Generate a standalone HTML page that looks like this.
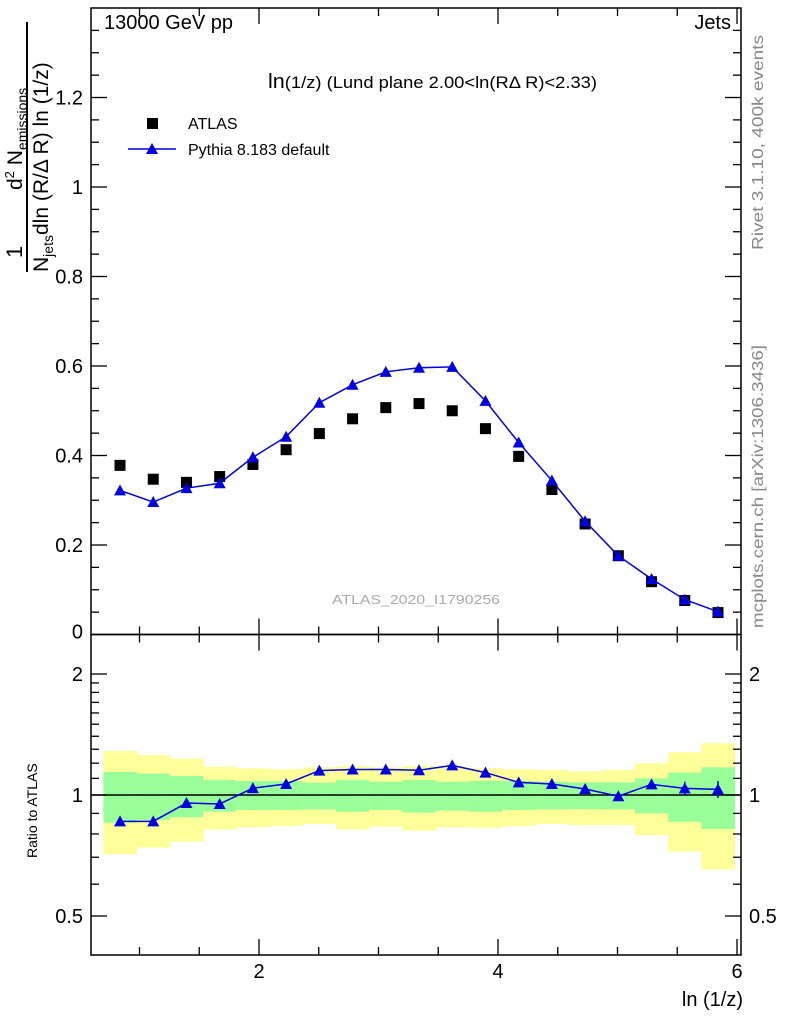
<!DOCTYPE html>
<html><head><meta charset="utf-8"><style>
html,body{margin:0;padding:0;background:#fff;}
svg{display:block;font-family:"Liberation Sans",sans-serif;}
</style></head><body>
<svg id="c" width="786" height="1024" viewBox="0 0 786 1024">
<g id="bands"></g>
<g id="axes"></g>
<g id="marks"></g>
<text x="104" y="29" font-size="20">13000 GeV pp</text>
<text x="731" y="29" font-size="20" text-anchor="end">Jets</text>
<text x="268" y="88" font-size="17" textLength="329" lengthAdjust="spacingAndGlyphs"><tspan font-size="20">ln</tspan>(1/z)  (Lund plane 2.00&lt;ln(RΔ R)&lt;2.33)</text>
<g>
<rect x="147" y="118" width="11" height="11" fill="#000"/>
<text x="188" y="129" font-size="16">ATLAS</text>
<line x1="128" y1="149" x2="176" y2="149" stroke="#0000e0" stroke-width="1.5"/>
<polygon points="152,143 158,154 146,154" fill="#0000e0"/>
<text x="188" y="155" font-size="16">Pythia 8.183 default</text>
</g>
<text x="332" y="604" font-size="13" fill="#aaa" textLength="168" lengthAdjust="spacingAndGlyphs">ATLAS_2020_I1790256</text>
<text transform="translate(763,250) rotate(-90)" font-size="16" fill="#888" textLength="215" lengthAdjust="spacingAndGlyphs">Rivet 3.1.10,  400k events</text>
<text transform="translate(763,628) rotate(-90)" font-size="16" fill="#888" textLength="283" lengthAdjust="spacingAndGlyphs">mcplots.cern.ch [arXiv:1306.3436]</text>
<g>
<text transform="translate(22,258) rotate(-90)" font-size="22">1</text>
<text transform="translate(22,190) rotate(-90)" font-size="21"><tspan>d</tspan><tspan font-size="13" dy="-8">2</tspan><tspan dy="8"> N</tspan><tspan font-size="14" dy="5">emissions</tspan></text>
<line x1="27" y1="272" x2="27" y2="22" stroke="#000" stroke-width="2"/>
<text transform="translate(48,272) rotate(-90)" font-size="21"><tspan>N</tspan><tspan font-size="14" dy="5">jets</tspan><tspan dy="-5">dln (R/Δ R) ln (1/z)</tspan></text>
</g>
<text transform="translate(37,858) rotate(-90)" font-size="14">Ratio to ATLAS</text>
<text x="743" y="1006" font-size="20" text-anchor="end">ln (1/z)</text>
</svg>
<script>
const binLow = [0.698,0.976,1.254,1.532,1.81,2.088,2.366,2.644,2.922,3.2,3.478,3.756,4.034,4.312,4.59,4.868,5.146,5.424,5.702];
const binHigh = [0.976,1.254,1.532,1.81,2.088,2.366,2.644,2.922,3.2,3.478,3.756,4.034,4.312,4.59,4.868,5.146,5.424,5.702,5.98];
const binCenters = [0.837,1.115,1.393,1.671,1.949,2.227,2.505,2.783,3.061,3.339,3.617,3.895,4.173,4.451,4.729,5.007,5.285,5.563,5.841];
const atlasValues = [0.378,0.347,0.340,0.353,0.380,0.413,0.449,0.482,0.507,0.516,0.500,0.460,0.398,0.324,0.247,0.176,0.118,0.076,0.049];
const pythiaValues = [0.322,0.296,0.327,0.338,0.396,0.442,0.518,0.558,0.587,0.596,0.598,0.522,0.429,0.344,0.253,0.176,0.124,0.078,0.051];
const ratioValues = [0.86,0.86,0.955,0.95,1.04,1.065,1.15,1.157,1.157,1.152,1.185,1.137,1.075,1.065,1.035,0.993,1.063,1.039,1.033];
const ratioErr = [0,0,0,0,0,0,0,0,0,0,0,0,0,0.01,0.015,0.02,0.03,0.04,0.05];
const yellowHigh = [1.287,1.257,1.231,1.176,1.165,1.159,1.172,1.181,1.172,1.181,1.172,1.165,1.159,1.154,1.145,1.154,1.199,1.277,1.345];
const yellowLow = [0.713,0.74,0.765,0.821,0.831,0.837,0.847,0.821,0.834,0.815,0.831,0.829,0.837,0.847,0.842,0.842,0.795,0.723,0.653];
const greenHigh = [1.141,1.13,1.115,1.09,1.083,1.083,1.073,1.09,1.079,1.09,1.079,1.085,1.083,1.079,1.075,1.075,1.1,1.137,1.172];
const greenLow = [0.853,0.867,0.88,0.909,0.918,0.918,0.921,0.909,0.918,0.904,0.914,0.909,0.918,0.921,0.923,0.921,0.9,0.858,0.823];
const mainTicks = [0.2,0.4,0.6,0.8,1,1.2];
const mainTickLabels = ["0.2","0.4","0.6","0.8","1","1.2"];
const ratioTicks = [0.5,1,2];
const ratioTickLabels = ["0.5","1","2"];
const xTicks = [2,4,6];
const xTickLabels = ["2","4","6"];

const NS="http://www.w3.org/2000/svg";
const L=91,R=741,T=8,MB=634.5,RB=955;
const X=v=>259+(v-2)*119.5;
const YM=v=>MB-v*447.5;
const YR=v=>795-Math.log2(v)*121;
function mk(tag,attrs,parent){const e=document.createElementNS(NS,tag);for(const k in attrs)e.setAttribute(k,attrs[k]);parent.appendChild(e);return e;}
const bands=document.getElementById('bands'),axes=document.getElementById('axes'),marks=document.getElementById('marks');

for(let i=0;i<binCenters.length;i++){
  let r=mk('rect',{x:X(binLow[i]),y:YR(yellowHigh[i]),width:X(binHigh[i])-X(binLow[i])+0.5,height:YR(yellowLow[i])-YR(yellowHigh[i]),fill:'#ffff99'},bands);
  
  
  let g=mk('rect',{x:X(binLow[i]),y:YR(greenHigh[i]),width:X(binHigh[i])-X(binLow[i])+0.5,height:YR(greenLow[i])-YR(greenHigh[i]),fill:'#99ff99'},bands);
  
  
}
let f1=mk('rect',{x:L,y:T,width:R-L,height:MB-T,fill:'none',stroke:'#000','stroke-width':1.5},axes);


let f2=mk('rect',{x:L,y:MB,width:R-L,height:RB-MB,fill:'none',stroke:'#000','stroke-width':1.5},axes);


let one=mk('line',{x1:L,x2:R,y1:YR(1),y2:YR(1),stroke:'#000','stroke-width':1.5},axes);


for(let v=0.05;v<1.4;v+=0.05){
  const y=YM(v);const maj=Math.abs(v/0.2-Math.round(v/0.2))<0.01;const len=maj?16:8;
  mk('line',{x1:L,x2:L+len,y1:y,y2:y,stroke:'#000','stroke-width':1.3},axes);
  mk('line',{x1:R,x2:R-len,y1:y,y2:y,stroke:'#000','stroke-width':1.3},axes);
}
mainTicks.forEach((v,i)=>{const t=mk('text',{x:L-8,y:YM(v)+7,'font-size':20,'text-anchor':'end'},axes);t.textContent=mainTickLabels[i];

});
const z=mk('text',{x:L-8,y:MB+4,'font-size':20,'text-anchor':'end'},axes);z.textContent="0";


[0.5,0.6,0.7,0.8,0.9,1,1.1,1.2,1.3,1.4,1.5,1.6,1.7,1.8,1.9,2].forEach(v=>{
  const y=YR(v);const maj=ratioTicks.includes(v);const len=maj?16:8;
  mk('line',{x1:L,x2:L+len,y1:y,y2:y,stroke:'#000','stroke-width':1.3},axes);
  mk('line',{x1:R,x2:R-len,y1:y,y2:y,stroke:'#000','stroke-width':1.3},axes);
});
ratioTicks.forEach((v,i)=>{
  const t=mk('text',{x:L-8,y:YR(v)+7,'font-size':20,'text-anchor':'end'},axes);t.textContent=ratioTickLabels[i];
  
  
  const t2=mk('text',{x:R+8,y:YR(v)+7,'font-size':20},axes);t2.textContent=ratioTickLabels[i];
  
  
});
for(let v=1;v<=6.01;v+=0.5){
  const x=X(v);const maj=Math.abs(v-Math.round(v/2)*2)<0.01;const len=maj?16:8;
  [[T,1],[MB,-1],[MB,1],[RB,-1]].forEach(([y0,d])=>{mk('line',{x1:x,x2:x,y1:y0,y2:y0+d*len,stroke:'#000','stroke-width':1.3},axes);});
}
xTicks.forEach((v,i)=>{const t=mk('text',{x:X(v),y:978,'font-size':20,'text-anchor':'middle'},axes);t.textContent=xTickLabels[i];

});
binCenters.forEach((c,i)=>{const r=mk('rect',{x:X(c)-5.5,y:YM(atlasValues[i])-5.5,width:11,height:11,fill:'#000'},marks);

});
const pl=mk('polyline',{points:binCenters.map((c,i)=>X(c)+','+YM(pythiaValues[i])).join(' '),fill:'none',stroke:'#0000e0','stroke-width':1.5},marks);


const tri=(x,y)=>`${x},${y-6} ${x+6},${y+5} ${x-6},${y+5}`;
binCenters.forEach((c,i)=>{const p=mk('polygon',{points:tri(X(c),YM(pythiaValues[i])),fill:'#0000e0'},marks);

});
const rl=mk('polyline',{points:binCenters.map((c,i)=>X(c)+','+YR(ratioValues[i])).join(' '),fill:'none',stroke:'#0000e0','stroke-width':1.5},marks);


binCenters.forEach((c,i)=>{
  if(ratioErr[i]>0){const e=mk('line',{x1:X(c),x2:X(c),y1:YR(ratioValues[i]+ratioErr[i]),y2:YR(ratioValues[i]-ratioErr[i]),stroke:'#0000e0','stroke-width':1.5},marks);
  
  }
  const p=mk('polygon',{points:tri(X(c),YR(ratioValues[i])),fill:'#0000e0'},marks);
  
  
});
</script>
</body></html>
